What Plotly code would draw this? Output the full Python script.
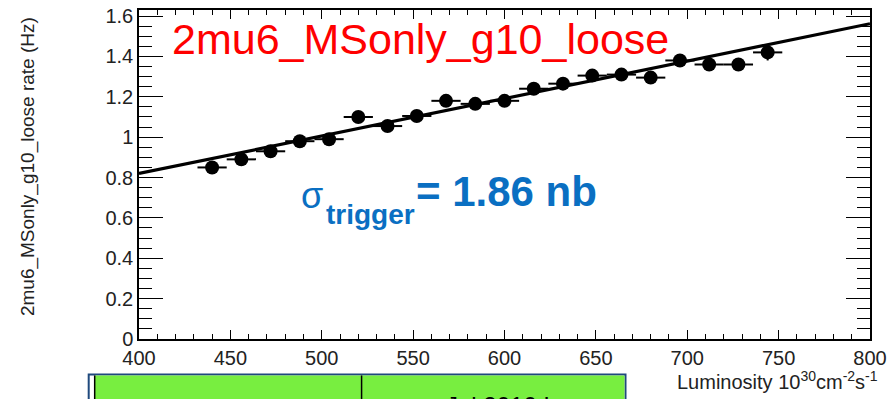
import plotly.graph_objects as go

# Measured trigger rate versus instantaneous luminosity
lumi = [440, 456, 472, 488, 504, 520, 536, 552, 568, 584,
        600, 616, 632, 648, 664, 680, 696, 712, 728, 744]
rate = [0.85, 0.89, 0.93, 0.98, 0.99, 1.10, 1.055, 1.105, 1.18, 1.165,
        1.18, 1.24, 1.265, 1.305, 1.31, 1.295, 1.38, 1.36, 1.36, 1.42]
lumi_err = [8] * 20
rate_err = [0.02] * 19 + [0.04]

# Linear fit through the points
fit_lumi = [400, 800]
fit_rate = [0.82, 1.562]

W, H = 892, 399
L, R, T, B = 139, 873, 5, 339


def px(x):
    return (x - L) / (R - L)


def py(y):
    return (B - y) / (B - T)


FONT = "Liberation Sans, Arial, sans-serif"
BLUE = "#0A6FC2"

fig = go.Figure()
fig.add_trace(go.Scatter(
    x=fit_lumi, y=fit_rate, mode="lines",
    line=dict(color="black", width=3.2), hoverinfo="skip", showlegend=False))
fig.add_trace(go.Scatter(
    x=lumi, y=rate, mode="markers",
    marker=dict(color="black", size=14, symbol="circle"),
    error_x=dict(type="data", array=lumi_err, color="black", thickness=2, width=0),
    error_y=dict(type="data", array=rate_err, color="black", thickness=2, width=0),
    showlegend=False))

axis_common = dict(
    showline=True, linecolor="black", linewidth=1.5, mirror="ticks",
    ticks="inside", tickcolor="black", tickwidth=1.2,
    showgrid=False, zeroline=False,
    tickfont=dict(family=FONT, size=20, color="#222"),
)

fig.update_xaxes(range=[400, 800], dtick=50, tick0=400, ticklen=9,
                 minor=dict(dtick=10, ticks="inside", ticklen=5,
                            tickcolor="black", tickwidth=1.2, showgrid=False),
                 **axis_common)
fig.update_yaxes(range=[0, 1.63], dtick=0.2, tick0=0, ticklen=24,
                 minor=dict(dtick=0.05, ticks="inside", ticklen=13,
                            tickcolor="black", tickwidth=1.2, showgrid=False),
                 **axis_common)

ann = []
# Axis titles
ann.append(dict(text="2mu6_MSonly_g10_loose rate (Hz)", x=px(27), y=py(164),
                textangle=-90, font=dict(family=FONT, size=19, color="#222")))
ann.append(dict(text="Luminosity 10<sup>30</sup>cm<sup>-2</sup>s<sup>-1</sup>",
                x=px(677), y=py(381), xanchor="left",
                font=dict(family=FONT, size=20, color="#222")))
# Trigger name
ann.append(dict(text="2mu6_MSonly_g10_loose", x=px(170), y=py(34), xanchor="left",
                font=dict(family=FONT, size=43, color="#FF0000")))
# Cross-section label
ann.append(dict(text="σ", x=px(300), y=py(193), xanchor="left",
                font=dict(family=FONT, size=36, color=BLUE)))
ann.append(dict(text="<b>trigger</b>", x=px(325), y=py(213), xanchor="left",
                font=dict(family=FONT, size=28, color=BLUE)))
ann.append(dict(text="<b>= 1.86 nb</b>", x=px(415), y=py(189), xanchor="left",
                font=dict(family=FONT, size=42, color=BLUE)))
# Table text below the frame
ann.append(dict(text="Jul 2010 L", x=px(445), y=py(391), xanchor="left",
                yanchor="top", font=dict(family=FONT, size=24, color="black")))

for a in ann:
    a.setdefault("xanchor", "center")
    a.setdefault("yanchor", "middle")
    a.update(xref="paper", yref="paper", showarrow=False)

shapes = [
    # table outer frame
    dict(type="rect", x0=px(88.5), x1=px(627.5), y0=py(420), y1=py(375),
         line=dict(color="#1F497D", width=2), fillcolor="white", layer="below"),
    # green cells
    dict(type="rect", x0=px(94.5), x1=px(626.5), y0=py(420), y1=py(376),
         line=dict(width=0), fillcolor="#78EE40", layer="below"),
    # left cell border
    dict(type="line", x0=px(94.5), x1=px(94.5), y0=py(420), y1=py(376),
         line=dict(color="black", width=1.5)),
    # column divider
    dict(type="line", x0=px(362.5), x1=px(362.5), y0=py(420), y1=py(376),
         line=dict(color="black", width=1.5)),
]
for s in shapes:
    s.update(xref="paper", yref="paper")

fig.update_layout(
    width=W, height=H,
    margin=dict(l=L, r=W - R, t=T, b=H - B, pad=0),
    paper_bgcolor="white", plot_bgcolor="white",
    annotations=ann, shapes=shapes,
    font=dict(family=FONT),
)

fig.write_html("out.html")
